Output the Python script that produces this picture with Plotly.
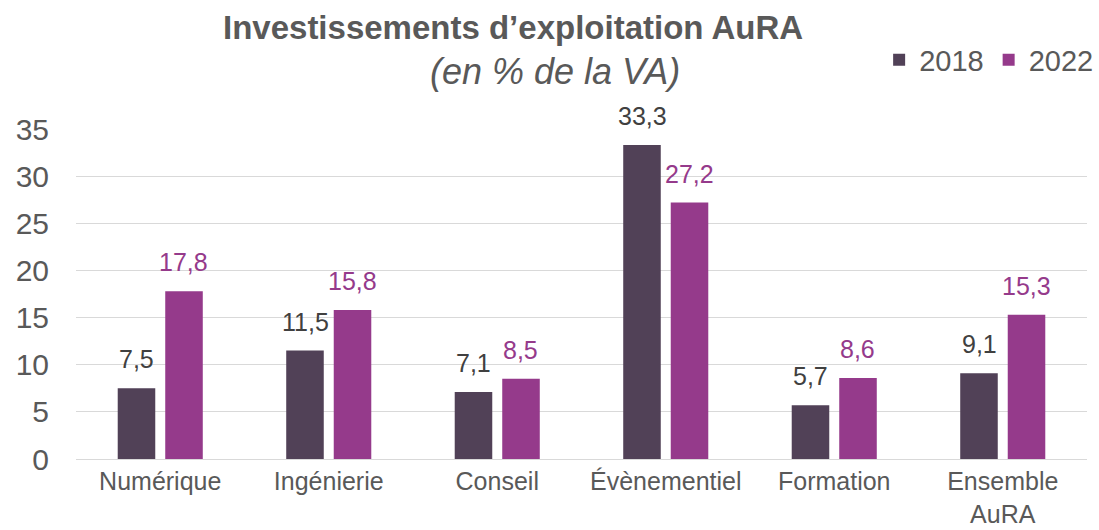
import plotly.graph_objects as go

categories = ["Numérique", "Ingénierie", "Conseil", "Évènementiel", "Formation", "Ensemble<br>AuRA"]
v2018 = [7.5, 11.5, 7.1, 33.3, 5.7, 9.1]
v2022 = [17.8, 15.8, 8.5, 27.2, 8.6, 15.3]
labels2018 = ["7,5", "11,5", "7,1", "33,3", "5,7", "9,1"]
labels2022 = ["17,8", "15,8", "8,5", "27,2", "8,6", "15,3"]

c2018 = "#514157"
c2022 = "#953A8B"
font = "Liberation Sans, Arial, sans-serif"

fig = go.Figure()
fig.add_trace(go.Bar(name="2018", x=categories, y=v2018, marker_color=c2018,
                     marker_line_width=0))
fig.add_trace(go.Bar(name="2022", x=categories, y=v2022, marker_color=c2022,
                     marker_line_width=0))

for cat, val, lab in zip(categories, v2018, labels2018):
    fig.add_annotation(x=cat, y=val, text=lab, showarrow=False, xshift=-23.5, yshift=13,
                       yanchor="bottom", xanchor="center",
                       font=dict(size=25, color="#404040", family=font))
for cat, val, lab in zip(categories, v2022, labels2022):
    fig.add_annotation(x=cat, y=val, text=lab, showarrow=False, xshift=23.5, yshift=13,
                       yanchor="bottom", xanchor="center",
                       font=dict(size=25, color=c2022, family=font))

fig.add_annotation(text="<b>Investissements d’exploitation AuRA</b>",
                   xref="paper", yref="paper", x=(513 - 76) / 1011, y=1 + (129 - 28) / 330,
                   showarrow=False, font=dict(size=33, color="#595959", family=font),
                   xanchor="center", yanchor="middle")
fig.add_annotation(text="<i>(en % de la VA)</i>",
                   xref="paper", yref="paper", x=(555 - 76) / 1011, y=1 + (129 - 72) / 330,
                   showarrow=False, font=dict(size=36, color="#595959", family=font),
                   xanchor="center", yanchor="middle")

fig.update_layout(
    width=1099, height=530,
    margin=dict(l=76, r=12, t=129, b=71, autoexpand=False),
    paper_bgcolor="white", plot_bgcolor="white",
    barmode="group", bargap=0.436, bargroupgap=0.21,
    font=dict(family=font, color="#595959"),
    showlegend=True,
    legend=dict(orientation="h", x=1.012, xanchor="right", y=1 + (129 - 60) / 330, yanchor="middle",
                font=dict(size=29, color="#595959", family=font), traceorder="normal",
                itemwidth=30, bgcolor="rgba(0,0,0,0)"),
)

fig.update_yaxes(range=[0, 35], dtick=5, showgrid=True, gridcolor="#d9d9d9", gridwidth=1.3,
                 zeroline=False, showline=False, tickfont=dict(size=30, color="#595959"),
                 ticks="", ticklabelstandoff=26, automargin=False)
fig.update_xaxes(showline=True, linecolor="#d9d9d9", linewidth=1.3,
                 tickfont=dict(size=25, color="#595959"), ticks="", automargin=False,
                 ticklabelstandoff=0)

fig.write_html("out.html", config={"displayModeBar": False},
               post_script="document.body.style.margin='0';document.body.style.overflow='hidden';")
